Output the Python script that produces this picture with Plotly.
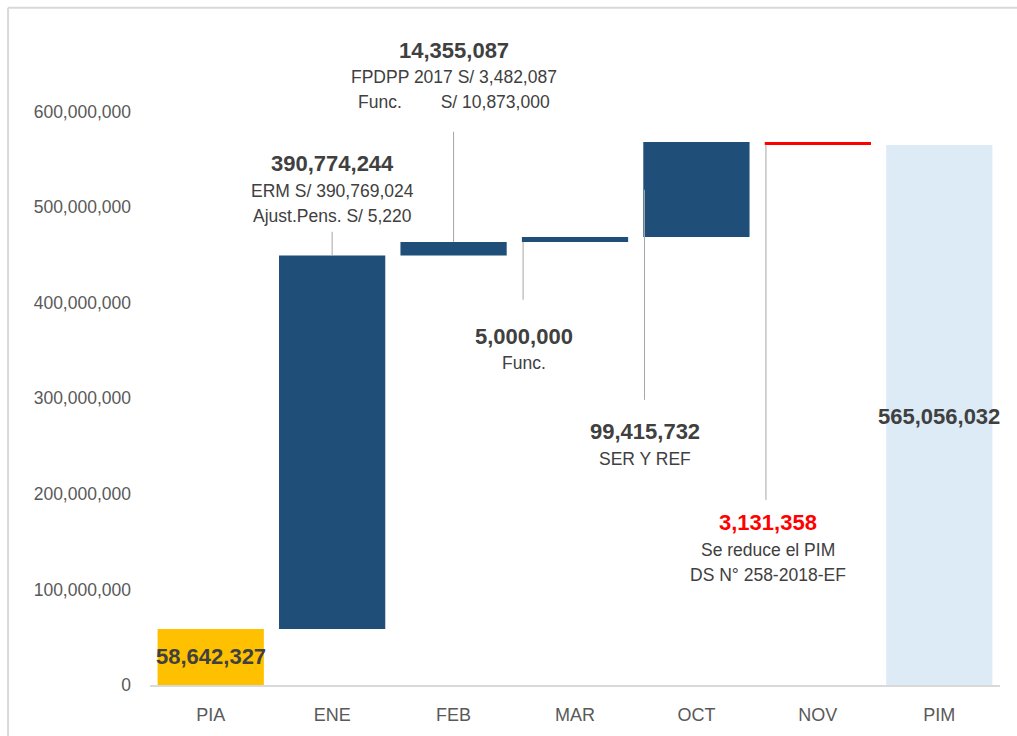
import plotly.graph_objects as go

# ---- data ----
categories = ["PIA", "ENE", "FEB", "MAR", "OCT", "NOV", "PIM"]
measures = ["absolute", "relative", "relative", "relative", "relative", "relative", "total"]
amounts = [58642327, 390774244, 14355087, 5000000, 99415732, -3131358, 565056032]
bar_colors = ["#FFC000", "#1F4E79", "#1F4E79", "#1F4E79", "#1F4E79", "#FF0000", "#DDEBF7"]
notes = {
    "ENE": ["ERM S/ 390,769,024", "Ajust.Pens. S/ 5,220"],
    "FEB": ["FPDPP 2017 S/ 3,482,087", "Func." + "\u00a0" * 8 + "S/ 10,873,000"],
    "MAR": ["Func."],
    "OCT": ["SER Y REF"],
    "NOV": ["Se reduce el PIM", "DS N° 258-2018-EF"],
}
yticks = [0, 100000000, 200000000, 300000000, 400000000, 500000000, 600000000]

# ---- compute bases / heights ----
bases, heights = [], []
running = 0
for m, a in zip(measures, amounts):
    if m == "absolute":
        bases.append(0); heights.append(a); running = a
    elif m == "total":
        bases.append(0); heights.append(running)
    else:
        if a >= 0:
            bases.append(running); heights.append(a)
        else:
            bases.append(running + a); heights.append(-a)
        running += a

xs = list(range(len(categories)))
FONT = "Liberation Sans, Arial, sans-serif"
DARK = "#404040"
GREY = "#595959"
LEAD = "#A6A6A6"
BW = 0.875
BIG = 22
SMALL = 17.5

fig = go.Figure()
fig.add_trace(go.Bar(x=xs, y=heights, base=bases, width=BW,
                     marker=dict(color=bar_colors, line=dict(width=0)),
                     hoverinfo="skip"))

# pixel -> value helper (plot area: y=0 at 685px, 100M per 95.5px)
YMAX = 696e6
def v(py):
    return (685 - py) * 1e8 / 95.5

def p(val):
    return 685 - val / 1e8 * 95.5

def fmt(n):
    return f"{abs(n):,}"

def label(x, py, txt, size=BIG, color=DARK, bold=True):
    t = f"<b>{txt}</b>" if bold else txt
    fig.add_annotation(x=x, y=v(py), xref="x", yref="y", text=t, showarrow=False,
                       font=dict(family=FONT, size=size, color=color),
                       xanchor="center", yanchor="middle")

def lead(x, py0, py1):
    fig.add_shape(type="line", x0=x, x1=x, y0=v(py0), y1=v(py1), xref="x", yref="y",
                  line=dict(color=LEAD, width=1))

idx = {c: i for i, c in enumerate(categories)}
tops = [b + h for b, h in zip(bases, heights)]

# PIA
label(idx["PIA"], 657, fmt(amounts[0]))
# ENE
i = idx["ENE"]
label(i, 164, fmt(amounts[i]))
for k, t in enumerate(notes["ENE"]):
    label(i, 191 + 25 * k, t, size=SMALL, bold=False)
lead(i, 232, p(tops[i]))
# FEB
i = idx["FEB"]
label(i, 51, fmt(amounts[i]))
for k, t in enumerate(notes["FEB"]):
    label(i, 77 + 25 * k, t, size=SMALL, bold=False)
lead(i, 132, p(tops[i]))
# MAR
i = idx["MAR"]
xl = i - BW / 2 + 0.01
label(xl + 0.01, 337, fmt(amounts[i]))
label(xl + 0.01, 363, notes["MAR"][0], size=SMALL, bold=False)
lead(xl, p(bases[i]), 300)
# OCT
i = idx["OCT"]
xl = i - BW / 2 + 0.01
label(xl, 432, fmt(amounts[i]))
label(xl, 459, notes["OCT"][0], size=SMALL, bold=False)
lead(xl, 190, 400)
# NOV
i = idx["NOV"]
xl = i - BW / 2 + 0.01
label(xl + 0.02, 523, fmt(amounts[i]), color="#FF0000")
for k, t in enumerate(notes["NOV"]):
    label(xl + 0.02, 550 + 25 * k, t, size=SMALL, bold=False)
lead(xl, 145, 500)
# PIM
label(idx["PIM"], 417, fmt(amounts[-1]))

# outer frame (top and left edges)
fig.add_shape(type="line", xref="paper", yref="paper", x0=-0.167, x1=1.05, y0=1.0185, y1=1.0185,
              line=dict(color="#D9D9D9", width=2))
fig.add_shape(type="line", xref="paper", yref="paper", x0=-0.167, x1=-0.167, y0=1.0185, y1=-0.2,
              line=dict(color="#D9D9D9", width=2))

fig.update_layout(
    width=1017, height=736,
    margin=dict(l=150, r=17, t=20, b=51),
    paper_bgcolor="white", plot_bgcolor="white",
    showlegend=False,
    font=dict(family=FONT, color=GREY, size=SMALL),
    xaxis=dict(tickmode="array", tickvals=xs, ticktext=categories, range=[-0.5, 6.5],
               showgrid=False, zeroline=False, showline=True, linecolor="#D9D9D9", linewidth=2,
               ticks="", ticklabelstandoff=12, tickfont=dict(family=FONT, size=18, color=GREY)),
    yaxis=dict(range=[0, YMAX], tickmode="array", tickvals=yticks,
               ticktext=[f"{t:,}" for t in yticks], showgrid=False, zeroline=False,
               showline=False, ticks="", ticklabelstandoff=18,
               tickfont=dict(family=FONT, size=17.5, color=GREY)),
)

fig.write_html("out.html", config={"displayModeBar": False},
               post_script="document.body.style.margin='0';document.body.style.overflow='hidden';")
